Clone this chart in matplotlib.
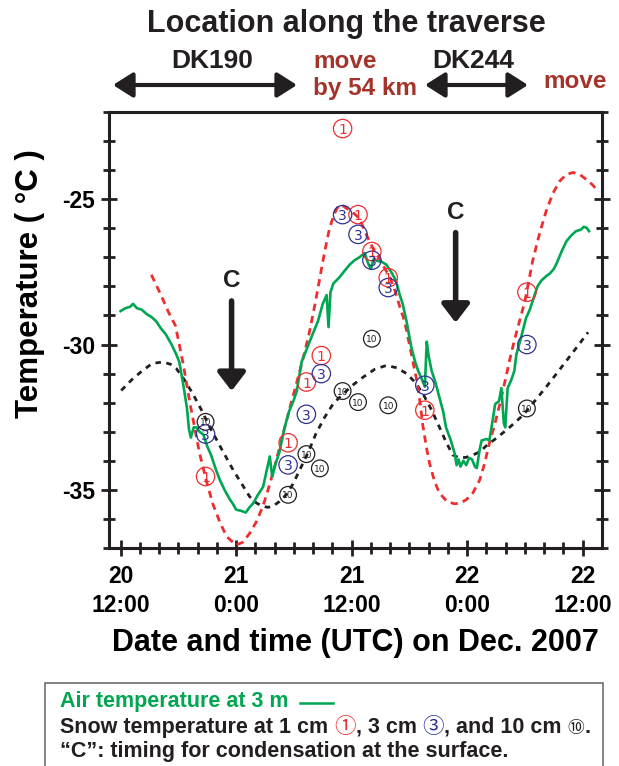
import numpy as np
import matplotlib
matplotlib.use("Agg")
import matplotlib.pyplot as plt
from matplotlib.patches import Rectangle
from matplotlib.offsetbox import TextArea, HPacker, AnnotationBbox

plt.rcParams['font.family'] = ['Liberation Sans', 'DejaVu Sans', 'Noto Sans CJK JP']
plt.rcParams['font.weight'] = 'bold'

# hours since 20 Dec 12:00 UTC
air_t = [0.0, 0.5, 1.0, 1.3, 1.7, 2.2, 2.7, 3.2, 3.7, 4.2, 4.7, 5.3, 5.8, 6.1, 6.5, 6.9,
         7.1, 7.3, 7.6, 7.9, 8.2, 8.6, 9.0, 9.4, 9.9, 10.3, 10.8, 11.3, 11.7, 12.0, 12.5,
         13.0, 13.4, 13.8, 14.3, 14.8, 15.2, 15.5, 15.75, 16.1, 16.5, 17.0, 17.5, 18.0,
         18.3, 18.8, 19.4, 20.0, 20.5, 21.0, 21.4, 21.6, 21.8, 22.1, 22.7, 23.3, 23.8,
         24.3, 24.8, 25.35, 25.7, 26.0, 26.3, 26.6, 27.1, 27.6, 28.1, 28.6, 29.0, 29.3,
         29.7, 30.2, 30.6, 30.9, 31.3, 31.6, 31.8, 32.0, 32.3, 32.7, 33.1, 33.5, 33.8,
         34.3, 34.7, 34.9, 35.1, 35.3, 35.6, 35.9, 36.2, 36.5, 36.8, 37.0, 37.3, 37.5,
         38.0, 38.3, 38.6, 38.9, 39.3, 39.55, 39.8, 39.95, 40.2, 40.6, 40.9, 41.1, 41.6,
         42.1, 42.5, 42.8, 43.3, 43.7, 44.2, 44.6, 45.0, 45.3, 45.8, 46.3, 46.8, 47.3,
         47.8, 48.1, 48.4, 48.65]
air_temp = [-28.85, -28.75, -28.7, -28.6, -28.75, -28.8, -28.95, -29.05, -29.2, -29.45,
            -29.65, -30.0, -30.35, -30.6, -31.35, -32.2, -32.9, -33.2, -32.85, -32.85,
            -33.0, -33.1, -33.5, -33.8, -34.3, -34.65, -35.0, -35.3, -35.5, -35.68, -35.72,
            -35.78, -35.6, -35.45, -35.15, -34.9, -34.3, -33.85, -34.55, -34.1, -33.7,
            -32.9, -32.3, -31.9, -31.6, -30.6, -30.1, -29.6, -29.2, -28.6, -28.3, -29.4,
            -28.2, -27.9, -27.7, -27.45, -27.25, -27.1, -27.0, -26.85, -27.2, -27.4, -27.05,
            -27.12, -27.15, -27.25, -27.5, -27.8, -28.3, -28.6, -29.2, -30.1, -30.6, -30.9,
            -31.2, -31.45, -29.9, -30.4, -30.9, -31.3, -31.8, -32.3, -32.85, -33.3, -33.75,
            -34.15, -33.95, -34.2, -34.0, -34.15, -33.9, -33.95, -34.2, -34.25, -33.6, -33.3,
            -33.25, -33.3, -32.7, -32.05, -31.95, -31.5, -32.7, -32.85, -31.5, -31.2, -30.9,
            -30.35, -29.75, -29.1, -28.8, -28.5, -28.0, -27.8, -27.65, -27.55, -27.4, -27.2,
            -26.8, -26.45, -26.25, -26.1, -26.05, -25.95, -25.98, -26.1]

model1_t = [3.2, 4.2, 5.0, 5.7, 6.5, 7.2, 8.2, 9.0, 9.6, 10.3, 11.0, 12.0, 12.7, 13.4,
            14.1, 14.8, 15.5, 16.2, 16.9, 17.6, 18.3, 18.9, 19.6, 20.2, 20.7, 21.2, 21.7,
            22.2, 22.6, 23.0, 23.4, 24.1, 24.8, 25.5, 26.0, 26.6, 27.3, 28.0, 28.5, 29.0,
            29.5, 30.2, 30.9, 31.4, 31.8, 32.1, 32.6, 33.1, 33.9, 34.7, 35.3, 35.9, 36.6,
            37.3, 37.8, 38.3, 38.9, 39.4, 39.9, 40.4, 40.9, 41.45, 42.0, 42.8, 43.5, 44.2,
            44.9, 45.6, 46.3, 47.0, 47.7, 48.4, 49.0, 49.6]
model1_temp = [-27.6, -28.3, -28.9, -29.35, -30.66, -32.0, -33.74, -34.8, -35.5, -36.1,
               -36.6, -36.9, -36.8, -36.5, -36.1, -35.55, -34.8, -33.95, -33.05, -32.15,
               -31.3, -30.55, -29.6, -28.6, -27.7, -26.8, -26.0, -25.5, -25.25, -25.2,
               -25.3, -25.45, -25.65, -26.2, -26.55, -26.9, -27.3, -27.7, -28.15, -28.7,
               -29.2, -30.32, -31.46, -32.8, -33.6, -34.1, -34.7, -35.1, -35.4, -35.48,
               -35.45, -35.34, -35.1, -34.66, -34.1, -33.4, -32.7, -32.03, -31.3, -30.55,
               -29.85, -29.18, -28.5, -27.12, -26.2, -25.41, -24.8, -24.38, -24.15, -24.08,
               -24.15, -24.33, -24.5, -24.73]

model10_t = [0.07, 1.2, 2.3, 3.3, 4.4, 5.2, 5.8, 6.6, 7.5, 8.4, 9.25, 10.5, 11.7, 12.6,
             13.4, 14.1, 14.8, 15.3, 15.8, 16.5, 17.2, 17.9, 18.6, 19.5, 20.3, 21.2, 22.1,
             23.1, 24.1, 25.2, 26.4, 27.6, 28.7, 29.7, 30.6, 31.4, 32.3, 33.1, 33.8, 34.5,
             35.2, 35.9, 36.6, 37.3, 38.1, 39.0, 40.4, 41.8, 43.0, 44.2, 45.4, 46.6, 47.6,
             48.55]
model10_temp = [-31.58, -31.2, -30.89, -30.65, -30.6, -30.68, -30.83, -31.2, -31.69, -32.25,
                -32.83, -33.6, -34.32, -34.8, -35.23, -35.45, -35.57, -35.6, -35.57, -35.4,
                -35.17, -34.8, -34.32, -33.7, -33.06, -32.5, -32.03, -31.7, -31.4, -31.12,
                -30.85, -30.72, -30.8, -31.0, -31.3, -31.69, -32.25, -32.83, -33.35, -33.8,
                -33.9, -33.88, -33.8, -33.69, -33.45, -33.23, -32.85, -32.43, -31.95, -31.46,
                -30.95, -30.43, -30.0, -29.58]

# snow temperature observations
obs_t = [8.83, 17.4, 19.3, 20.85, 23.06, 24.66, 26.1, 27.8, 31.6, 42.2]
snow1 = [-34.54, -33.38, -31.29, -30.38, -22.57, -25.53, -26.8, -27.7, -32.26, -28.2]
snow3 = [-33.08, -34.14, -32.4, -31.0, -25.53, -26.21, -27.1, -28.04, -31.4, -30.0]
obs10_t = [8.83, 17.4, 19.3, 20.7, 23.06, 24.66, 26.1, 27.8, 42.2]
snow10 = [-32.66, -35.17, -33.77, -34.26, -31.6, -31.98, -29.8, -32.09, -32.2]

cond_t = [11.53, 34.8]
tick_hours = [0, 12, 24, 36, 48]
tick_labels = ["20\n12:00", "21\n0:00", "21\n12:00", "22\n0:00", "22\n12:00"]

GREEN = '#00a651'
RED = '#ee2e2e'
BLUE = '#2e3192'
BROWN = '#a3342b'
DARK = '#231f20'

W, H = 619, 766
fig = plt.figure(figsize=(W / 100, H / 100), dpi=100)
ax = fig.add_axes([109 / W, 1 - 548 / H, (602 - 109) / W, (548 - 112) / H])

ax.plot(model10_t, model10_temp, color=DARK, lw=2.0, ls=(0, (2.0, 2.0)), zorder=2)
ax.plot(model1_t, model1_temp, color=RED, lw=2.0, ls=(0, (2.6, 1.9)), zorder=2)
ax.plot(air_t, air_temp, color=GREEN, lw=1.9, zorder=3)


def circled(xs, ys, label, color, fs, size):
    ax.scatter(xs, ys, s=size, facecolors='none', edgecolors=color, linewidths=0.9, zorder=4)
    for x, y in zip(xs, ys):
        ax.text(x, y, label, color=color, fontsize=fs, fontweight='normal',
                ha='center', va='center_baseline', zorder=5, family='DejaVu Sans')


circled(obs_t, snow1, '1', RED, 10, 175)
circled(obs_t, snow3, '3', BLUE, 10, 175)
circled(obs10_t, snow10, '10', DARK, 6.5, 145)

# condensation arrows
for i, ct in enumerate(cond_t):
    top = [-28.5, -26.15][i]
    tip = [-31.6, -29.25][i]
    ax.annotate('', xy=(ct, tip), xytext=(ct, top),
                arrowprops=dict(arrowstyle='-|>,head_width=0.42,head_length=0.55',
                                lw=4, color=DARK, mutation_scale=20,
                                shrinkA=0, shrinkB=0))
    ax.text(ct, top + 0.7, 'C', fontsize=17.5, fontweight='bold', color=DARK,
            ha='center', va='center')

ax.set_xlim(-1.2, 50)
ax.set_ylim(-37, -22)
ax.set_xticks(tick_hours)
ax.set_xticklabels(tick_labels, fontsize=16.5, fontweight='bold', linespacing=1.35)
ax.set_xticks(np.arange(0, 50, 2), minor=True)
ax.set_yticks([-35, -30, -25])
ax.set_yticklabels(['-35', '-30', '-25'], fontsize=16.5, fontweight='bold')
ax.set_yticks(np.arange(-37, -21.9, 1), minor=True)
ax.tick_params(axis='both', which='major', direction='inout', length=12, width=2, color=DARK)
ax.tick_params(axis='both', which='minor', direction='inout', length=8, width=2, color=DARK)
ax.tick_params(axis='x', which='major', pad=6)
ax.tick_params(axis='y', which='major', pad=4)
ax.tick_params(axis='y', which='both', right=True)
for sp in ax.spines.values():
    sp.set_linewidth(2.2)
    sp.set_color(DARK)

ax.set_xlabel('Date and time (UTC) on Dec. 2007', fontsize=22, fontweight='bold', labelpad=8)
fig.text(30 / W, 1 - 284 / H, 'Temperature ( °C )', rotation=90, fontsize=22.5,
         fontweight='bold', ha='center', va='center')

# header
fig.text(346 / W, 1 - 24 / H, 'Location along the traverse', fontsize=22,
         fontweight='bold', ha='center', va='center', color=DARK)
fig.text(212 / W, 1 - 61 / H, 'DK190', fontsize=19, fontweight='bold', ha='center',
         va='center', color=DARK)
fig.text(473 / W, 1 - 61 / H, 'DK244', fontsize=19, fontweight='bold', ha='center',
         va='center', color=DARK)
fig.text(313 / W, 1 - 61 / H, 'move', fontsize=17.5, fontweight='bold', ha='left',
         va='center', color=BROWN)
fig.text(313 / W, 1 - 88 / H, 'by 54 km', fontsize=17.5, fontweight='bold', ha='left',
         va='center', color=BROWN)
fig.text(543 / W, 1 - 81 / H, 'move', fontsize=17.5, fontweight='bold', ha='left',
         va='center', color=BROWN)
for x0, x1 in [(113, 297), (425, 528)]:
    fig.add_artist(plt.Annotation('', xy=(x1, H - 85), xytext=(x0, H - 85),
                                  xycoords='figure pixels', textcoords='figure pixels',
                                  arrowprops=dict(arrowstyle='<|-|>,head_width=0.38,head_length=0.6',
                                                  lw=3, color=DARK, mutation_scale=20,
                                                  shrinkA=0, shrinkB=0)))

# legend box
fig.add_artist(Rectangle((45 / W, -0.01), (603 - 45) / W, (766 - 683) / H + 0.01,
                         transform=fig.transFigure, facecolor='white',
                         edgecolor='#6d6e71', lw=1.2))
LFS = 15.5
fig.text(60 / W, 1 - 702 / H, 'Air temperature at 3 m', fontsize=LFS, fontweight='bold',
         color=GREEN, ha='left', va='center')
fig.add_artist(plt.Line2D([300 / W, 333 / W], [1 - 703 / H, 1 - 703 / H], color=GREEN,
                          lw=1.8, transform=fig.transFigure))
bold = dict(fontsize=LFS, fontweight='bold', color=DARK)
cjk = ['Noto Sans CJK JP', 'DejaVu Sans']
parts = [TextArea('Snow temperature at 1 cm ', textprops=bold),
         TextArea('①', textprops=dict(fontsize=LFS, color=RED, family=cjk, fontweight='normal')),
         TextArea(', 3 cm ', textprops=bold),
         TextArea('③', textprops=dict(fontsize=LFS, color=BLUE, family=cjk, fontweight='normal')),
         TextArea(', and 10 cm ', textprops=bold),
         TextArea('⑩', textprops=dict(fontsize=12, color=DARK, family=cjk, fontweight='normal')),
         TextArea('.', textprops=bold)]
row = HPacker(children=parts, align='baseline', pad=0, sep=0)
fig.add_artist(AnnotationBbox(row, (60, H - 727), xycoords='figure pixels',
                              box_alignment=(0, 0.5), frameon=False, pad=0))
fig.text(60 / W, 1 - 752 / H, '\u201cC\u201d: timing for condensation at the surface.',
         fontsize=LFS, fontweight='bold', color=DARK, ha='left', va='center')

fig.savefig('out.png', dpi=100)
